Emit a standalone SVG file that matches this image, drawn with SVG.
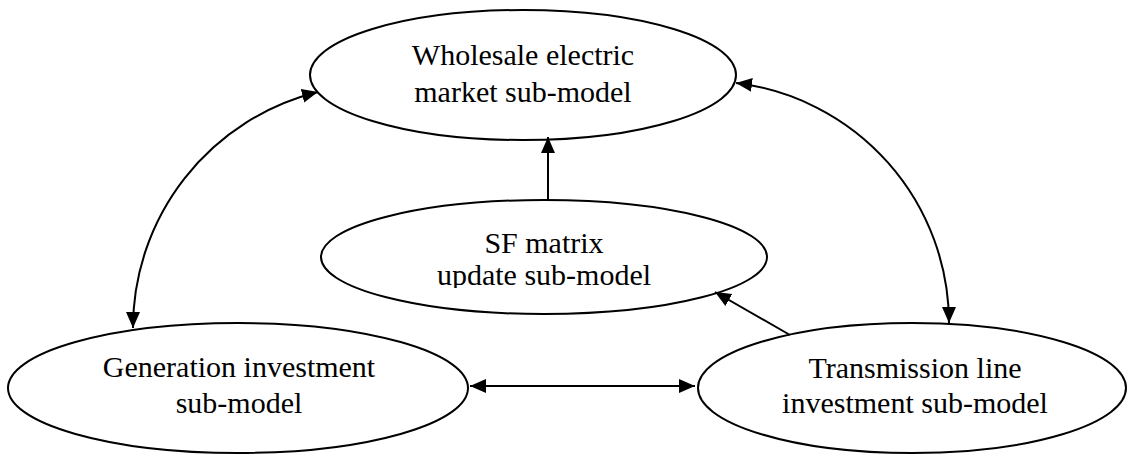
<svg xmlns="http://www.w3.org/2000/svg" width="1128" height="454" viewBox="0 0 1128 454">
  <style>
    .node { fill: #fff; stroke: #000; stroke-width: 2; }
    .label { font-family: "Liberation Serif", "Times New Roman", serif; font-size: 30px; fill: #000; text-anchor: middle; }
    .edge { fill: none; stroke: #000; stroke-width: 2; }
  </style>
  <defs>
    <marker id="arrow" markerUnits="userSpaceOnUse" markerWidth="17" markerHeight="15" refX="16" refY="7" orient="auto-start-reverse">
      <path d="M0,0 L16,7 L0,14 z" fill="#000"/>
    </marker>
    <clipPath id="sf-clip">
      <rect x="320" y="200" width="450" height="88"/>
    </clipPath>
  </defs>

  <rect width="1128" height="454" fill="#fff"/>

  <g id="wholesale-market">
    <ellipse class="node" cx="523" cy="75" rx="213" ry="65"/>
    <text class="label" x="523" y="65">Wholesale electric</text>
    <text class="label" x="523" y="102">market sub-model</text>
  </g>

  <g id="sf-matrix">
    <ellipse class="node" cx="544" cy="257" rx="223" ry="57"/>
    <g clip-path="url(#sf-clip)">
      <text class="label" x="544" y="253">SF matrix</text>
      <text class="label" x="544" y="285">update sub-model</text>
    </g>
  </g>

  <g id="generation-investment">
    <ellipse class="node" cx="238" cy="388" rx="230" ry="65"/>
    <text class="label" x="239" y="377">Generation investment</text>
    <text class="label" x="239" y="413">sub-model</text>
  </g>

  <g id="transmission-investment">
    <ellipse class="node" cx="912" cy="388" rx="214" ry="65"/>
    <text class="label" x="915" y="378">Transmission line</text>
    <text class="label" x="915" y="413">investment sub-model</text>
  </g>

  <g id="connectors">
    <!-- market <-> generation -->
    <path class="edge" d="M318,92 A243,243 0 0,0 133,328" marker-start="url(#arrow)" marker-end="url(#arrow)"/>
    <!-- market <-> transmission -->
    <path class="edge" d="M736,83 A242,242 0 0,1 949,323" marker-start="url(#arrow)" marker-end="url(#arrow)"/>
    <!-- SF matrix -> market -->
    <path class="edge" d="M548,200 L548,137" marker-end="url(#arrow)"/>
    <!-- transmission -> SF matrix -->
    <path class="edge" d="M790,335 L715,292" marker-end="url(#arrow)"/>
    <!-- generation <-> transmission -->
    <path class="edge" d="M470,386 L695,386" marker-start="url(#arrow)" marker-end="url(#arrow)"/>
  </g>
</svg>
